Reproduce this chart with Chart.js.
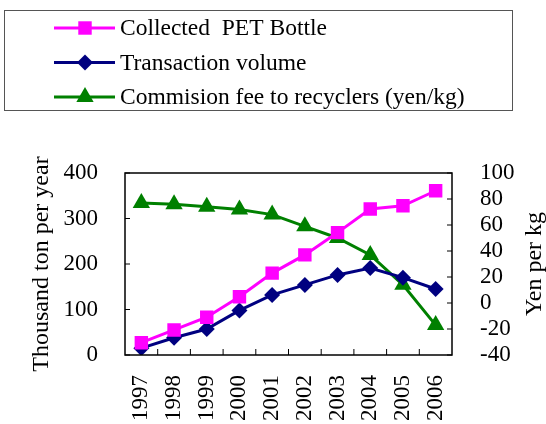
<!DOCTYPE html>
<html lang="en">
<head>
    <meta charset="UTF-8">
    <title>PET Bottle Recycling</title>
    <script src="https://cdn.jsdelivr.net/npm/chart.js"></script>
    <style>
        body {
            margin: 0;
            background: #fff;
            font-family: 'Liberation Serif', serif;
        }
    </style>
</head>
<body>
    <canvas id="chart" width="546" height="424"></canvas>

    <script>
        const years = ['1997', '1998', '1999', '2000', '2001', '2002', '2003', '2004', '2005', '2006'];
        const collectedPet = [27, 55, 83, 128, 180, 220, 269, 321, 328, 361];
        const transactionVolume = [15, 38, 57, 98, 132, 154, 176, 191, 170, 145];
        const commissionFee = [77, 76, 74, 72, 68, 59, 50, 37, 14, -17];

        const serif = "'Liberation Serif', serif";
        const tickFont = { family: serif, size: 23 };
        const titleFont = { family: serif, size: 24 };

        // legend box, right title, frame with inward tick marks
        const framePlugin = {
            id: 'frame',
            afterDraw(chart) {
                const ctx = chart.ctx;
                const area = chart.chartArea;
                const { x, y, y1 } = chart.scales;
                ctx.save();
                ctx.strokeStyle = '#000';
                ctx.lineWidth = 1.5;
                ctx.strokeRect(area.left, area.top, area.right - area.left, area.bottom - area.top);

                ctx.beginPath();
                y.ticks.forEach(t => {
                    const py = y.getPixelForValue(t.value);
                    ctx.moveTo(area.left, py);
                    ctx.lineTo(area.left + 5, py);
                });
                y1.ticks.forEach(t => {
                    const py = y1.getPixelForValue(t.value);
                    ctx.moveTo(area.right, py);
                    ctx.lineTo(area.right - 5, py);
                });
                for (let i = 1; i < years.length; i++) {
                    const px = (x.getPixelForValue(i - 1) + x.getPixelForValue(i)) / 2;
                    ctx.moveTo(px, area.bottom);
                    ctx.lineTo(px, area.bottom - 6);
                }
                ctx.lineWidth = 1;
                ctx.stroke();

                // right axis title, reading bottom to top
                ctx.save();
                ctx.translate(535, (area.top + area.bottom) / 2);
                ctx.rotate(-Math.PI / 2);
                ctx.font = `24px ${serif}`;
                ctx.textAlign = 'center';
                ctx.textBaseline = 'middle';
                ctx.fillStyle = '#000';
                ctx.fillText('Yen per kg', 0, 0);
                ctx.restore();

                // legend
                ctx.strokeStyle = '#555';
                ctx.lineWidth = 1;
                ctx.strokeRect(4.5, 10.5, 508, 100);
                ctx.font = `23.5px ${serif}`;
                ctx.textBaseline = 'middle';
                chart.data.datasets.forEach((ds, i) => {
                    const rowY = 28 + i * 34.5;
                    ctx.strokeStyle = ds.borderColor;
                    ctx.lineWidth = 3;
                    ctx.beginPath();
                    ctx.moveTo(54, rowY);
                    ctx.lineTo(115, rowY);
                    ctx.stroke();
                    ctx.fillStyle = ds.backgroundColor;
                    Chart.helpers.drawPoint(ctx, {
                        pointStyle: ds.pointStyle,
                        radius: ds.pointRadius,
                        borderWidth: 0
                    }, 85, rowY);
                    ctx.fillStyle = '#000';
                    ctx.fillText(ds.label, 120, rowY + 1);
                });
                ctx.restore();
            }
        };

        function drawChart() {
            new Chart(document.getElementById('chart'), {
                type: 'line',
                data: {
                    labels: years,
                    datasets: [
                        {
                            label: 'Collected  PET Bottle',
                            data: collectedPet,
                            yAxisID: 'y',
                            borderColor: '#FF00FF',
                            backgroundColor: '#FF00FF',
                            borderWidth: 3,
                            pointStyle: 'rect',
                            pointRadius: 9.5,
                            pointBorderWidth: 0
                        },
                        {
                            label: 'Transaction volume',
                            data: transactionVolume,
                            yAxisID: 'y',
                            borderColor: '#000080',
                            backgroundColor: '#000080',
                            borderWidth: 3,
                            pointStyle: 'rectRot',
                            pointRadius: 8,
                            pointBorderWidth: 0
                        },
                        {
                            label: 'Commision fee to recyclers (yen/kg)',
                            data: commissionFee,
                            yAxisID: 'y1',
                            borderColor: '#008000',
                            backgroundColor: '#008000',
                            borderWidth: 3,
                            pointStyle: 'triangle',
                            pointRadius: 10,
                            pointBorderWidth: 0
                        }
                    ]
                },
                options: {
                    responsive: false,
                    animation: false,
                    layout: { autoPadding: false, padding: { top: 173, left: 0, right: 0, bottom: 0 } },
                    plugins: {
                        legend: { display: false },
                        tooltip: { enabled: false }
                    },
                    scales: {
                        x: {
                            offset: true,
                            grid: { display: false },
                            border: { display: false },
                            ticks: {
                                font: tickFont,
                                color: '#000',
                                minRotation: 90,
                                maxRotation: 90,
                                autoSkip: false,
                                padding: 12
                            },
                            afterFit(scale) { scale.height = 69; }
                        },
                        y: {
                            position: 'left',
                            min: 0,
                            max: 400,
                            grid: { display: false },
                            border: { display: false },
                            ticks: { stepSize: 100, font: tickFont, color: '#000', padding: 19, autoSkip: false },
                            title: {
                                display: true,
                                text: 'Thousand ton per year',
                                font: titleFont,
                                color: '#000',
                                padding: { top: 27, bottom: 5 }
                            },
                            afterFit(scale) { scale.width = 125; }
                        },
                        y1: {
                            position: 'right',
                            min: -40,
                            max: 100,
                            grid: { display: false },
                            border: { display: false },
                            ticks: { stepSize: 20, font: tickFont, color: '#000', padding: 20, autoSkip: false },
                            afterFit(scale) { scale.width = 94; }
                        }
                    }
                },
                plugins: [framePlugin]
            });
        }

        document.fonts.load(`23px ${serif}`).then(drawChart, drawChart);
    </script>
</body>
</html>
